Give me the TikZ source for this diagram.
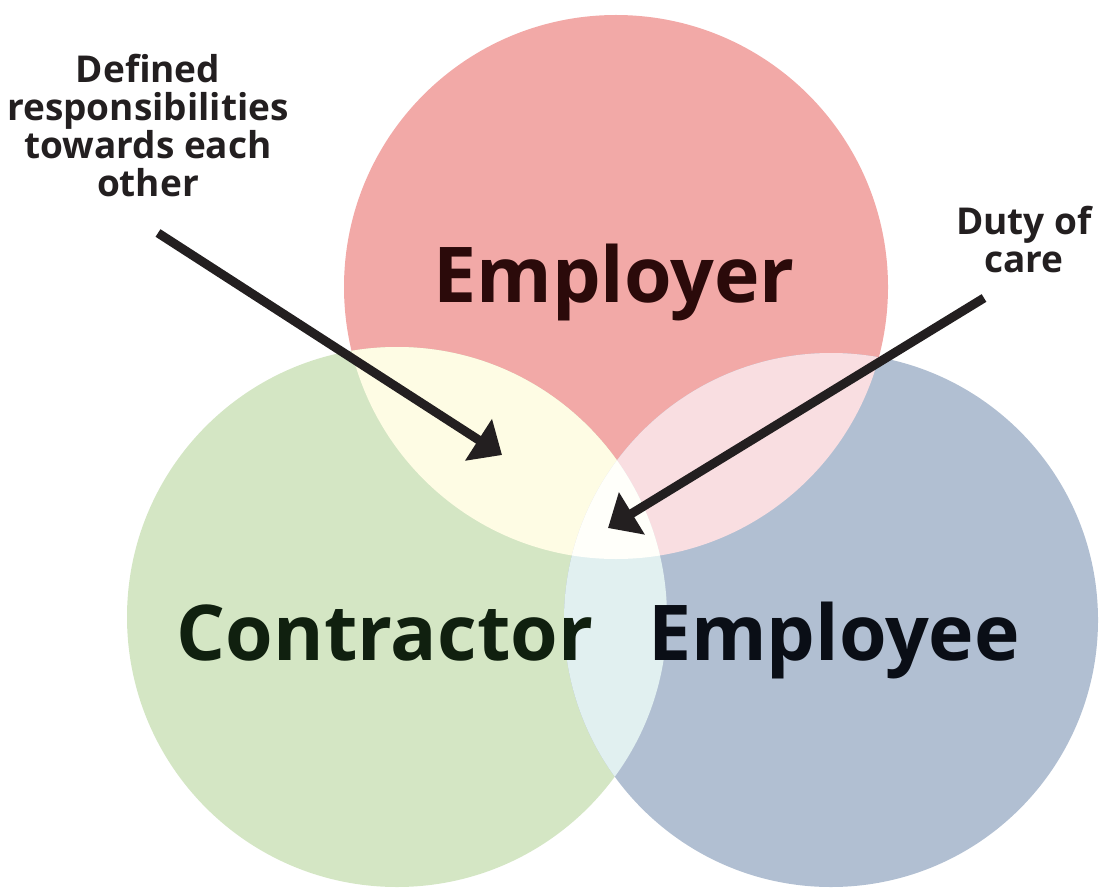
\documentclass[tikz,border=0pt]{standalone}
\usepackage{fontspec}
\setmainfont{Open Sans}
\usetikzlibrary{arrows.meta}

\definecolor{emprose}{RGB}{242,169,167}
\definecolor{congreen}{RGB}{212,230,196}
\definecolor{eeblue}{RGB}{177,191,210}
\definecolor{rosegreen}{RGB}{254,252,228}
\definecolor{roseblue}{RGB}{249,222,225}
\definecolor{greenblue}{RGB}{225,240,240}
\definecolor{allthree}{RGB}{255,255,250}
\definecolor{emptext}{RGB}{43,10,10}
\definecolor{context}{RGB}{16,32,15}
\definecolor{eetext}{RGB}{10,14,22}
\definecolor{notetext}{RGB}{35,31,32}

\tikzset{
  bigname/.style={font=\bfseries\fontsize{77}{77}\selectfont, anchor=base, inner sep=0pt},
  note/.style={font=\bfseries\fontsize{37}{38}\selectfont, align=center, anchor=north, inner sep=0pt, text=notetext},
  pointer/.style={draw=notetext, line width=9pt, -{Triangle[length=28pt,width=48pt]}}
}

\begin{document}
\begin{tikzpicture}[x=1pt,y=-1pt]
\useasboundingbox (0,0) rectangle (1099,893);
% circle centres
\coordinate (E) at (616,287);
\coordinate (C) at (397,617);
\coordinate (W) at (831,620);
\fill[emprose] (E) circle[radius=272pt];
\fill[congreen] (C) circle[radius=270pt];
\fill[eeblue] (W) circle[radius=267pt];
% overlaps
\begin{scope}
\clip (E) circle[radius=272pt];
\fill[rosegreen] (C) circle[radius=270pt];
\fill[roseblue] (W) circle[radius=267pt];
\end{scope}
\begin{scope}
\clip (C) circle[radius=270pt];
\fill[greenblue] (W) circle[radius=267pt];
\clip (W) circle[radius=267pt];
\fill[allthree] (E) circle[radius=272pt];
\end{scope}
% names
\node[bigname, text=emptext] (employer) at (614,302) {Employer};
\node[bigname, text=context] (contractor) at (385,660) {Contractor};
\node[bigname, text=eetext] (employee) at (834,660) {Employee};
% notes and arrows
\node[note] (resp) at (148,54) {Defined\\responsibilities\\towards each\\other};
\node[note] (care) at (1024,206) {Duty of\\care};
\coordinate (resptail) at (158,233);
\coordinate (resptip) at (502,455);
\coordinate (caretail) at (984,298);
\coordinate (caretip) at (608,528);
\draw[pointer] (resptail) -- (resptip);
\draw[pointer] (caretail) -- (caretip);
\end{tikzpicture}
\end{document}
